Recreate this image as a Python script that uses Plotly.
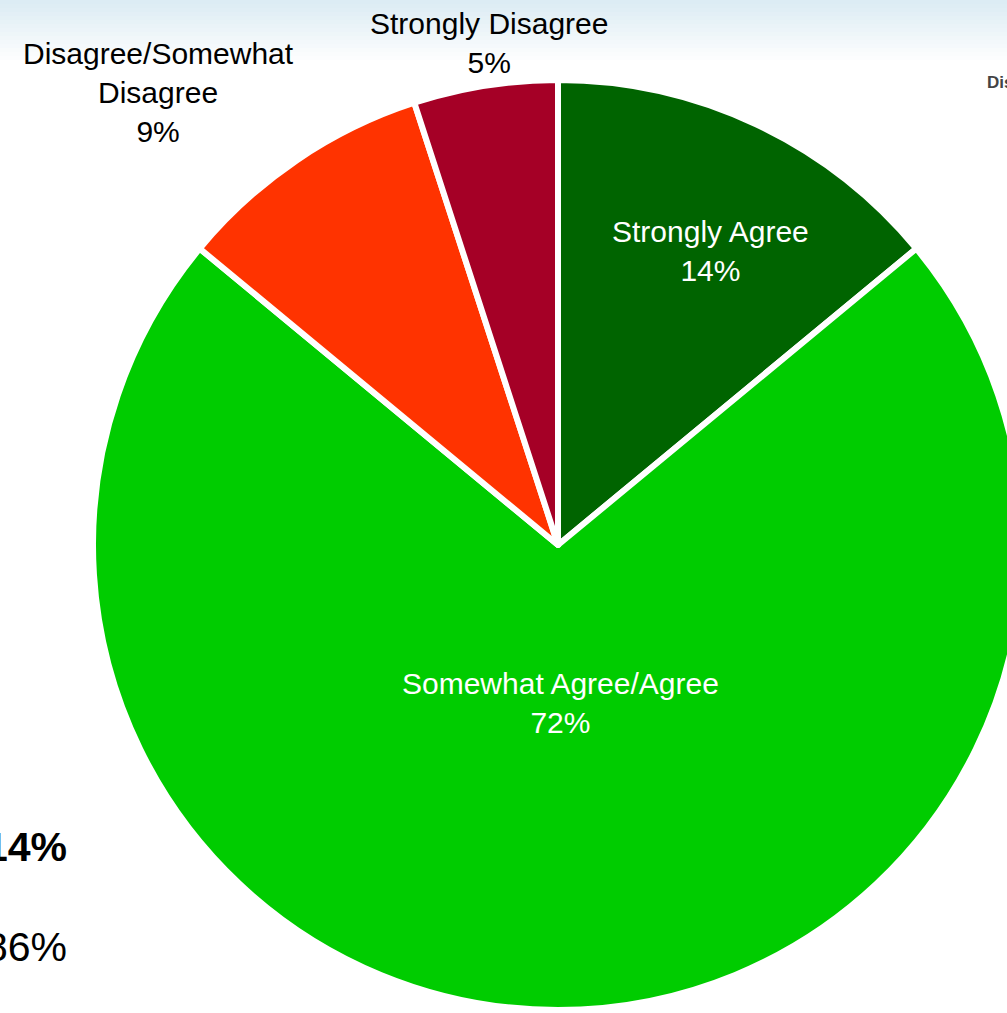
import plotly.graph_objects as go

labels = ["Strongly Agree", "Somewhat Agree/Agree", "Disagree/Somewhat<br>Disagree", "Strongly Disagree"]
values = [14, 72, 9, 5]
colors = ["#006400", "#00CC00", "#FF3300", "#A50026"]
label_colors = ["white", "white", "black", "black"]

# page / pie geometry (pixels)
W, H = 1040, 1013
CX, CY, R = 558, 545, 465

# label block centres (pixels), one per slice
label_xy = [(710, 251), (560, 703), (158, 93), (489, 43)]

FONT = "Liberation Sans, Arial, sans-serif"

fig = go.Figure()
fig.add_trace(go.Pie(
    labels=labels,
    values=values,
    sort=False,
    direction="clockwise",
    rotation=0,
    marker=dict(colors=colors, line=dict(color="white", width=6)),
    textinfo="none",
    domain=dict(x=[(CX - R) / W, (CX + R) / W], y=[1 - (CY + R) / H, 1 - (CY - R) / H]),
    showlegend=False,
    hoverinfo="label+percent",
))

total = sum(values)
annotations = []
for lab, v, col, (px, py) in zip(labels, values, label_colors, label_xy):
    pct = round(100 * v / total)
    annotations.append(dict(
        text=f"{lab}<br>{pct}%", x=px / W, y=1 - py / H, xref="paper", yref="paper",
        xanchor="center", yanchor="middle", showarrow=False, align="center",
        font=dict(family=FONT, size=30, color=col)))

# fragments of the neighbouring panel visible at the page edges
annotations += [
    dict(text="<b>Dis</b>", x=985 / W, y=1 - 82 / H, xref="paper", yref="paper",
         xanchor="left", yanchor="middle", showarrow=False,
         font=dict(family=FONT, size=17, color="#444444")),
    dict(text="<b>14%</b>", x=69 / W, y=1 - 847 / H, xref="paper", yref="paper",
         xanchor="right", yanchor="middle", showarrow=False,
         font=dict(family=FONT, size=41, color="black")),
    dict(text="86%", x=69 / W, y=1 - 947 / H, xref="paper", yref="paper",
         xanchor="right", yanchor="middle", showarrow=False,
         font=dict(family=FONT, size=41, color="black")),
]

# light blue gradient band at the top of the page
shapes = []
n = 16
for i in range(n):
    t = i / (n - 1)
    r = int(0xDC + (0xFF - 0xDC) * t)
    g = int(0xEC + (0xFF - 0xEC) * t)
    b = int(0xF4 + (0xFF - 0xF4) * t)
    shapes.append(dict(type="rect", xref="paper", yref="paper", layer="below",
                       x0=0, x1=1, y0=1 - (i + 1) * 4 / H, y1=1 - i * 4 / H,
                       fillcolor=f"rgb({r},{g},{b})", line=dict(width=0)))

fig.update_layout(
    width=W, height=H,
    margin=dict(l=0, r=0, t=0, b=0),
    paper_bgcolor="white",
    plot_bgcolor="white",
    shapes=shapes,
    annotations=annotations,
)

fig.write_html(
    "out.html",
    config={"displayModeBar": False},
    post_script="document.body.style.margin='0';document.body.style.overflow='hidden';",
)
